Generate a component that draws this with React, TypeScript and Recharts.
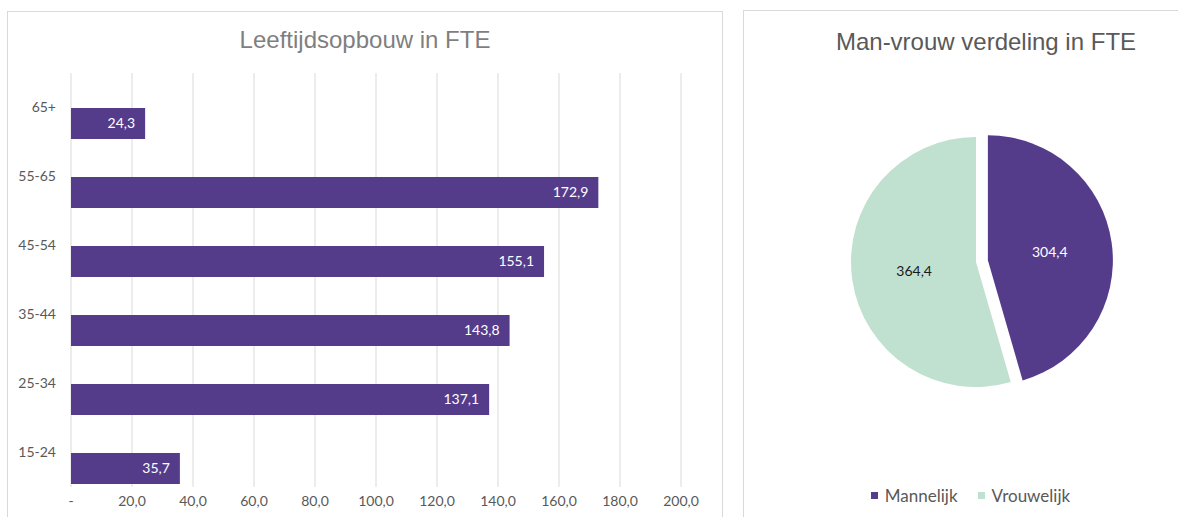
import React from "react";
import {
  BarChart,
  Bar,
  XAxis,
  YAxis,
  CartesianGrid,
  LabelList,
  PieChart,
  Pie,
  Cell,
  Legend,
} from "recharts";

// leeftijdsopbouw (van boven naar beneden zoals in het origineel)
const ageGroups = ["65+", "55-65", "45-54", "35-44", "25-34", "15-24"];
const fteByAge = [24.3, 172.9, 155.1, 143.8, 137.1, 35.7];
const xTicks = [0, 20, 40, 60, 80, 100, 120, 140, 160, 180, 200];

// man-vrouw verdeling
const genderNames = ["Mannelijk", "Vrouwelijk"];
const fteByGender = [304.4, 364.4];
const genderColors = ["#553C8B", "#C0E1CF"];
const genderLabelColors = ["#ffffff", "#1a1a1a"];

const PURPLE = "#553C8B";
const FONT = "Lato, 'Liberation Sans', sans-serif";
const TITLE_FONT = "'Liberation Sans', Arial, sans-serif";

const fmt = (v: number) => (v === 0 ? "-" : v.toFixed(1).replace(".", ","));

const ageData = ageGroups.map((g, i) => ({ leeftijd: g, fte: fteByAge[i] }));
const genderData = genderNames.map((n, i) => ({ name: n, value: fteByGender[i] }));

// uitgetrokken taartpunt (Mannelijk)
const total = fteByGender.reduce((s, v) => s + v, 0);
const explodeMid = (90 - (360 * fteByGender[0]) / total / 2) * (Math.PI / 180);
const EXPLODE = 12;
const PIE_CX = 233;
const PIE_CY = 252;
const PIE_R = 125;

const RAD = Math.PI / 180;

function makePieLabel(visibleIndex: number) {
  return (props: any) => {
    const { cx, cy, midAngle, outerRadius, index, value } = props;
    if (index !== visibleIndex) return null;
    const r = outerRadius * 0.5;
    const x = cx + r * Math.cos(-midAngle * RAD);
    const y = cy + r * Math.sin(-midAngle * RAD);
    return (
      <text
        x={x}
        y={y}
        fill={genderLabelColors[index]}
        textAnchor="middle"
        dominantBaseline="central"
        fontSize={14}
        fontFamily={FONT}
      >
        {fmt(value)}
      </text>
    );
  };
}

function GenderLegend() {
  return (
    <div style={{ display: "flex", justifyContent: "center", gap: 20, fontFamily: FONT, fontSize: 17, color: "#595959" }}>
      {genderNames.map((n, i) => (
        <div key={n} style={{ display: "flex", alignItems: "center", gap: 7 }}>
          <span style={{ width: 7, height: 7, background: genderColors[i], display: "inline-block" }} />
          <span>{n}</span>
        </div>
      ))}
    </div>
  );
}

export default function App() {
  return (
    <div style={{ position: "absolute", left: 0, top: 0, width: 1178, height: 517, background: "#fff", overflow: "hidden" }}>
      {/* linker paneel */}
      <div style={{ position: "absolute", left: 7, top: 11, width: 716, height: 520, border: "1px solid #d9d9d9", boxSizing: "border-box" }} />
      <div
        style={{
          position: "absolute",
          left: 7,
          top: 26,
          width: 716,
          textAlign: "center",
          fontFamily: TITLE_FONT,
          fontSize: 24,
          color: "#7f7f7f",
          lineHeight: "28px",
        }}
      >
        Leeftijdsopbouw in FTE
      </div>
      <div style={{ position: "absolute", left: 7, top: 11 }}>
        <BarChart
          layout="vertical"
          width={716}
          height={506}
          data={ageData}
          margin={{ top: 62, right: 42, left: 0, bottom: 0 }}
          barSize={31}
          barGap={0}
        >
          <CartesianGrid horizontal={false} stroke="#d9d9d9" />
          <XAxis
            type="number"
            domain={[0, 200]}
            ticks={xTicks}
            interval={0}
            tickFormatter={fmt}
            axisLine={false}
            tickLine={false}
            tickMargin={3}
            height={30}
            tick={{ fill: "#595959", fontSize: 14, fontFamily: FONT }}
          />
          <YAxis
            type="category"
            dataKey="leeftijd"
            width={64}
            axisLine={false}
            tickLine={false}
            tickMargin={9}
            tick={{ fill: "#595959", fontSize: 14, fontFamily: FONT }}
          />
          <Bar dataKey="leeg" fill="none" isAnimationActive={false} legendType="none" />
          <Bar dataKey="fte" fill={PURPLE} isAnimationActive={false}>
            <LabelList
              dataKey="fte"
              position="insideRight"
              offset={10}
              fill="#ffffff"
              fontSize={14}
              fontFamily={FONT}
              formatter={(v: any) => fmt(Number(v))}
            />
          </Bar>
        </BarChart>
      </div>

      {/* rechter paneel */}
      <div style={{ position: "absolute", left: 743, top: 10, width: 460, height: 520, border: "1px solid #d9d9d9", boxSizing: "border-box" }} />
      <div
        style={{
          position: "absolute",
          left: 786,
          top: 28,
          width: 400,
          textAlign: "center",
          fontFamily: TITLE_FONT,
          fontSize: 24,
          color: "#595959",
          lineHeight: "28px",
        }}
      >
        Man-vrouw verdeling in FTE
      </div>
      <div style={{ position: "absolute", left: 743, top: 10 }}>
        <PieChart width={435} height={507} margin={{ top: 0, right: 0, bottom: 0, left: 0 }}>
          <Pie
            data={genderData}
            dataKey="value"
            nameKey="name"
            cx={PIE_CX}
            cy={PIE_CY}
            outerRadius={PIE_R}
            startAngle={90}
            endAngle={-270}
            stroke="none"
            labelLine={false}
            label={makePieLabel(1)}
            isAnimationActive={false}
          >
            {genderData.map((d, i) => (
              <Cell key={d.name} fill={i === 1 ? genderColors[i] : "none"} />
            ))}
          </Pie>
          <Pie
            data={genderData}
            dataKey="value"
            nameKey="name"
            cx={PIE_CX + EXPLODE * Math.cos(explodeMid)}
            cy={PIE_CY - EXPLODE * Math.sin(explodeMid)}
            outerRadius={PIE_R}
            startAngle={90}
            endAngle={-270}
            stroke="none"
            labelLine={false}
            label={makePieLabel(0)}
            isAnimationActive={false}
          >
            {genderData.map((d, i) => (
              <Cell key={d.name} fill={i === 0 ? genderColors[i] : "none"} />
            ))}
          </Pie>
          <Legend content={<GenderLegend />} wrapperStyle={{ left: 0, top: 475, width: 455 }} />
        </PieChart>
      </div>
    </div>
  );
}
